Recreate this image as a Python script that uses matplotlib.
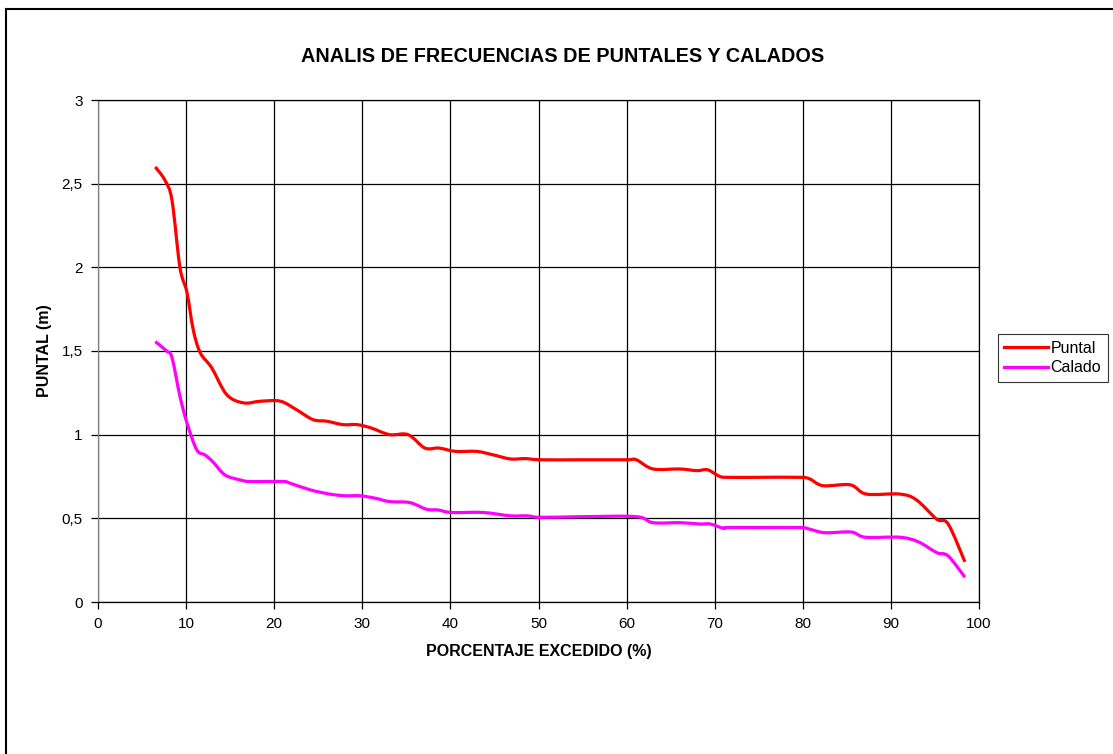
import matplotlib.pyplot as plt
import matplotlib.ticker as mticker
from matplotlib.lines import Line2D
from matplotlib.path import Path
from matplotlib.patches import PathPatch

plt.rcParams['font.family'] = ['Liberation Sans', 'DejaVu Sans']

# Porcentaje excedido (%) y valores
puntal_x = [6.5, 7.6, 8.4, 9.3, 10.1, 10.8, 11.6, 12.9, 14.6, 16.5, 18.5, 20.7, 22.5,
            24.4, 26.0, 27.8, 29.4, 31.0, 33.1, 35.2, 37.1, 38.7, 40.6, 43.0, 44.8,
            46.8, 48.5, 50.2, 55.0, 60.0, 61.1, 63.0, 66.0, 68.0, 69.2, 70.6, 71.7,
            75.0, 79.7, 80.8, 82.3, 85.4, 87.2, 91.0, 92.9, 95.2, 96.5, 98.4]
puntal_y = [2.60, 2.52, 2.40, 2.00, 1.85, 1.63, 1.49, 1.40, 1.24, 1.19, 1.20, 1.20, 1.15,
            1.09, 1.08, 1.06, 1.06, 1.04, 1.00, 1.00, 0.92, 0.92, 0.90, 0.90, 0.88,
            0.855, 0.857, 0.85, 0.85, 0.85, 0.85, 0.795, 0.795, 0.785, 0.79, 0.75, 0.745,
            0.745, 0.745, 0.735, 0.695, 0.70, 0.645, 0.645, 0.61, 0.495, 0.466, 0.24]

calado_x = [6.5, 7.8, 8.4, 9.3, 10.1, 11.2, 12.1, 13.0, 14.4, 16.1, 17.3, 21.0, 21.8,
            24.1, 26.3, 28.0, 29.7, 31.5, 33.1, 35.4, 37.3, 38.6, 40.1, 43.7, 46.8,
            48.7, 50.2, 55.0, 61.1, 63.0, 66.1, 68.3, 69.5, 71.0, 71.4, 75.0, 79.7,
            80.8, 82.5, 85.5, 87.1, 91.0, 93.1, 95.2, 96.5, 98.4]
calado_y = [1.556, 1.50, 1.46, 1.23, 1.07, 0.91, 0.88, 0.84, 0.76, 0.73, 0.72, 0.72, 0.71,
            0.67, 0.645, 0.635, 0.635, 0.62, 0.60, 0.594, 0.554, 0.55, 0.535, 0.535, 0.515,
            0.515, 0.506, 0.51, 0.51, 0.474, 0.474, 0.466, 0.466, 0.44, 0.445, 0.445, 0.445,
            0.435, 0.414, 0.418, 0.387, 0.387, 0.36, 0.295, 0.275, 0.148]


# linea suavizada tipo Excel (curvas de Bezier entre los puntos)
def linea_suave(ax, xs, ys, color):
    pts = list(zip(xs, ys))
    verts = [pts[0]]
    codes = [Path.MOVETO]
    n = len(pts)
    for i in range(n - 1):
        p0 = pts[i - 1] if i > 0 else pts[i]
        p1 = pts[i]
        p2 = pts[i + 1]
        p3 = pts[i + 2] if i + 2 < n else pts[i + 1]
        c1 = (p1[0] + (p2[0] - p0[0]) / 6, p1[1] + (p2[1] - p0[1]) / 6)
        c2 = (p2[0] - (p3[0] - p1[0]) / 6, p2[1] - (p3[1] - p1[1]) / 6)
        verts += [c1, c2, p2]
        codes += [Path.CURVE4] * 3
    ax.add_patch(PathPatch(Path(verts, codes), fill=False, edgecolor=color, lw=2.3,
                           joinstyle='round', capstyle='butt', zorder=3))


fig = plt.figure(figsize=(11.13, 7.54), dpi=100)
ax = fig.add_axes([98/1113, 1-602/754, (979-98)/1113, (602-100)/754])

linea_suave(ax, puntal_x, puntal_y, '#ff0000')
linea_suave(ax, calado_x, calado_y, '#ff00ff')

ax.set_xlim(0, 100)
ax.set_ylim(0, 3)
ax.set_xticks(range(0, 101, 10))
ax.set_yticks([0, 0.5, 1, 1.5, 2, 2.5, 3])
ax.yaxis.set_major_formatter(mticker.FuncFormatter(lambda v, p: ('%g' % v).replace('.', ',')))
ax.grid(True, color='black', lw=0.9)
ax.set_axisbelow(True)
ax.tick_params(labelsize=11, length=5, width=0.9, colors='black', pad=6)
for s in ax.spines.values():
    s.set_linewidth(0.9)
    s.set_color('black')
ax.spines['left'].set_color('#808080')

ax.set_xlabel('PORCENTAJE EXCEDIDO (%)', fontsize=11.5, fontweight='bold', labelpad=9)
ax.set_ylabel('PUNTAL (m)', fontsize=11.5, fontweight='bold', labelpad=7)
fig.text(563/1113, 1-57/754, 'ANALIS DE FRECUENCIAS DE PUNTALES Y CALADOS',
         ha='center', va='center', fontsize=14.3, fontweight='bold')

handles = [Line2D([], [], color='#ff0000', lw=2.3), Line2D([], [], color='#ff00ff', lw=2.3)]
leg = fig.legend(handles, ['Puntal', 'Calado'], loc='center left',
                 bbox_to_anchor=(998/1113, 1-358/754), fontsize=11.5, frameon=True,
                 fancybox=False, edgecolor='black', handlelength=2.7, handletextpad=0.2,
                 labelspacing=0.3, borderpad=0.4, borderaxespad=0)
leg.get_frame().set_linewidth(0.8)

# borde del area del grafico
fig.add_artist(Line2D([6/1113, 6/1113], [0, 1-9/754], color='black', lw=1.5))
fig.add_artist(Line2D([6/1113, 1], [1-9/754, 1-9/754], color='black', lw=1.5))

fig.savefig('out.png', dpi=100)
